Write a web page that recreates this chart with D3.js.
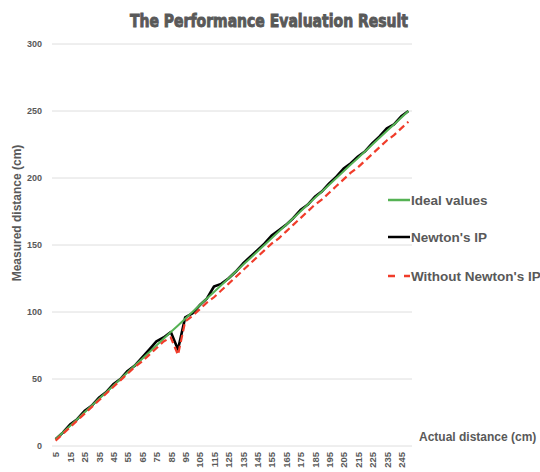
<!DOCTYPE html>
<html><head><meta charset="utf-8">
<script src="https://cdn.jsdelivr.net/npm/d3@7"></script>
<style>body{margin:0;background:#fff}svg{display:block}</style>
</head><body>
<svg id="c" width="540" height="472"></svg>
<script>
const categories = [5,10,15,20,25,30,35,40,45,50,55,60,65,70,75,80,85,90,95,100,105,110,115,120,125,130,135,140,145,150,155,160,165,170,175,180,185,190,195,200,205,210,215,220,225,230,235,240,245,250];
const idealValues = [5,10,15,20,25,30,35,40,45,50,55,60,65,70,75,80,85,90,95,100,105,110,115,120,125,130,135,140,145,150,155,160,165,170,175,180,185,190,195,200,205,210,215,220,225,230,235,240,245,250];
const newtonValues = [5,10,16,20,26,30,36,40,46,50,56,60,66,72,78,81,85,72,96,99,105,110,119,121,125,130,136,141,146,151,157,161,165,170,176,180,186,190,196,201,207,211,216,220,226,231,237,240,246,250];
const withoutValues = [4,9,14,19,24,29,34,39,44,49,54,59,63,68,73,78,81,68,93,97,102,107,111,116,121,126,131,136,141,146,151,155,160,165,170,175,180,184,189,194,199,204,208,213,218,223,228,232,237,242];
const yTicks = [0,50,100,150,200,250,300];
const seriesNames = ["Ideal values","Newton's IP","Without Newton's IP"];
const seriesColors = ["#55b254","#000000","#f03c2a"];

const svg = d3.select("#c");
const txt = "#595959";
const x = d3.scalePoint().domain(categories).range([52,412]).padding(0.5);
const y = d3.scaleLinear().domain([0,300]).range([446,44]);

// gridlines
svg.append("g").selectAll("line").data(yTicks).join("line")
  .attr("x1",52).attr("x2",412).attr("y1",d=>y(d)).attr("y2",d=>y(d))
  .attr("stroke","#dedede").attr("stroke-width",1);

// y axis labels
const yAxis = d3.axisLeft(y).tickValues(yTicks).tickSize(0).tickPadding(0);
const gy = svg.append("g").attr("transform","translate(42,0)").call(yAxis);
gy.select(".domain").remove();
gy.selectAll("text").attr("fill",txt).style("font","bold 9px 'Liberation Sans', Arial, sans-serif");

// x axis labels
const xAxis = d3.axisBottom(x).tickValues(categories.filter((d,i)=>i%2===0)).tickSize(0).tickPadding(0);
const gx = svg.append("g").attr("transform","translate(0,452)").call(xAxis);
gx.select(".domain").remove();
gx.selectAll("text").attr("fill",txt).style("font","bold 9.5px 'Liberation Sans', Arial, sans-serif")
  .attr("transform","rotate(-90)").attr("text-anchor","end").attr("dy","0.35em").attr("x",0).attr("y",0);

// lines (black under green, red on top)
const line = d3.line().x((d,i)=>x(categories[i])).y(d=>y(d));
svg.append("path").attr("d",line(newtonValues)).attr("fill","none").attr("stroke",seriesColors[1]).attr("stroke-width",2.6).attr("stroke-linejoin","round");
svg.append("path").attr("d",line(idealValues)).attr("fill","none").attr("stroke",seriesColors[0]).attr("stroke-width",2);
svg.append("path").attr("d",line(withoutValues)).attr("fill","none").attr("stroke",seriesColors[2]).attr("stroke-width",2.2).attr("stroke-dasharray","7,4");

// title
svg.append("text").attr("x",269).attr("y",27).attr("text-anchor","middle")
  .attr("fill",txt).attr("stroke",txt).attr("stroke-width",0.9)
  .attr("textLength",278).attr("lengthAdjust","spacingAndGlyphs")
  .style("font","bold 18px 'DejaVu Sans Condensed', 'Liberation Sans Narrow', sans-serif")
  .text("The Performance Evaluation Result");

// y title
svg.append("text").attr("transform","translate(21,213) rotate(-90)").attr("text-anchor","middle")
  .attr("fill",txt).style("font","bold 12px 'Liberation Sans', Arial, sans-serif")
  .text("Measured distance (cm)");

// x title
svg.append("text").attr("x",419).attr("y",441).attr("fill",txt)
  .style("font","bold 12px 'Liberation Sans', Arial, sans-serif").text("Actual distance (cm)");

// legend
const legY = [200,237,276];
const leg = svg.append("g").selectAll("g").data(seriesNames).join("g")
  .attr("transform",(d,i)=>`translate(0,${legY[i]})`);
leg.append("line").attr("x1",388).attr("x2",410).attr("y1",0).attr("y2",0)
  .attr("stroke",(d,i)=>seriesColors[i]).attr("stroke-width",2.5)
  .attr("stroke-dasharray",(d,i)=>i===2?"7,9":null);
leg.append("text").attr("x",411).attr("y",0).attr("dy","0.35em").attr("fill",txt)
  .style("font","bold 13.5px 'Liberation Sans', Arial, sans-serif").text(d=>d);
</script>
</body></html>
